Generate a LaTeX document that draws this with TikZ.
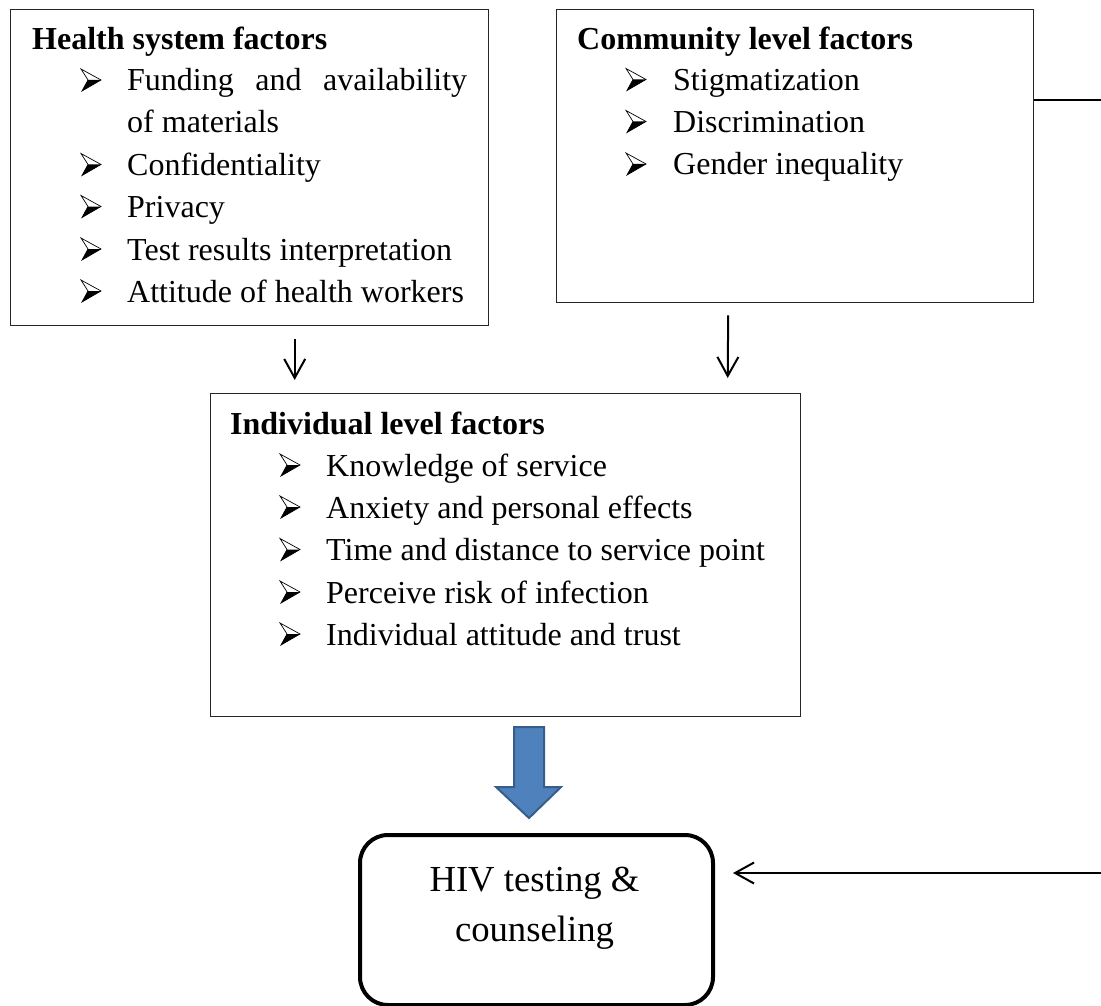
\documentclass[tikz,border=0pt]{standalone}
\usepackage{fontspec}
\setmainfont{Liberation Serif}
\usetikzlibrary{arrows.meta}

\definecolor{blockfill}{HTML}{4F81BD}
\definecolor{blockline}{HTML}{385D8A}

\tikzset{
  >={Straight Barb[length=19pt,width=21pt]},   % open arrow heads
  factorbox/.style={draw=black!85, line width=1.4pt, anchor=north west, inner sep=0pt},
  hivbox/.style={draw, line width=4pt, rounded corners=28pt, anchor=north west, inner sep=0pt},
  head/.style={anchor=base west, inner sep=0pt, font=\fontsize{32}{42}\selectfont\bfseries},
  item/.style={anchor=base west, inner sep=0pt, font=\fontsize{32}{42}\selectfont},
  link/.style={line width=2pt},
  pics/dart/.style={code={
    \filldraw[line width=0.7pt, fill=white, line join=miter] (0,-22) -- (20,-11) -- (1,0) -- (7,-11) -- cycle;
    \fill (7,-11) -- (20,-11) -- (1,0) -- cycle;
  }},
}

\begin{document}
\begin{tikzpicture}[x=1pt, y=-1pt]
	\useasboundingbox (0,0) rectangle (1101,1006);

	% boxes
	\node[factorbox, minimum width=478pt, minimum height=316pt] (health) at (10,9) {};
	\node[factorbox, minimum width=477pt, minimum height=293pt] (comm) at (556,9) {};
	\node[factorbox, minimum width=590pt, minimum height=323pt] (ind) at (210,393) {};
	\node[hivbox, minimum width=353pt, minimum height=170pt] (hiv) at (358,833) {};

	% health system factors
	\node[head] (hhead) at (32,50) {Health system factors};
	\foreach \y/\txt [count=\i] in {91/{\makebox[340pt][s]{Funding and availability}}, 133/{of materials},
			175.5/Confidentiality, 217.5/Privacy, 260/{Test results interpretation}, 302/{Attitude of health workers}}
		\node[item] (h\i) at (127,\y) {\txt};
	\foreach \y in {91,175.5,217.5,260,302}
		\pic at (81,\y) {dart};

	% community level factors
	\node[head] (chead) at (577,50) {Community level factors};
	\foreach \y/\txt [count=\i] in {90.5/Stigmatization, 132.5/Discrimination, 175/{Gender inequality}} {
		\node[item] (c\i) at (673,\y) {\txt};
		\pic at (626,\y) {dart};
	}

	% individual level factors
	\node[head] (ihead) at (230,434) {Individual level factors};
	\foreach \y/\txt [count=\i] in {476/{Knowledge of service}, 518/{Anxiety and personal effects},
			560.5/{Time and distance to service point}, 603/{Perceive risk of infection}, 645/{Individual attitude and trust}} {
		\node[item] (i\i) at (326,\y) {\txt};
		\pic at (280,\y) {dart};
	}

	% outcome
	\node[anchor=north, align=center, inner sep=0pt, font=\fontsize{36.7}{50}\selectfont] (hivtext) at (534.5,867) {HIV testing \&\\counseling};

	% arrows
	\draw[->, link] ([xshift=45pt,yshift=-13pt]health.south) -- ([xshift=-211pt,yshift=13pt]ind.north);
	\draw[->, link] ([xshift=-67pt,yshift=-12pt]comm.south) -- ([xshift=222pt,yshift=15pt]ind.north);
	\draw[fill=blockfill, draw=blockline, line width=2pt]
		(514,727) -- (544,727) -- (544,787) -- (561,787) -- (529,818) -- (496,787) -- (514,787) -- cycle;

	% side link
	\coordinate (rtop) at (1101,100);
	\coordinate (rbot) at (1101,873);
	\draw[link] (rtop -| comm.east) -- (rtop);
	\draw[->, link] (rbot) -- ([xshift=18pt]rbot -| hiv.east);
\end{tikzpicture}
\end{document}
